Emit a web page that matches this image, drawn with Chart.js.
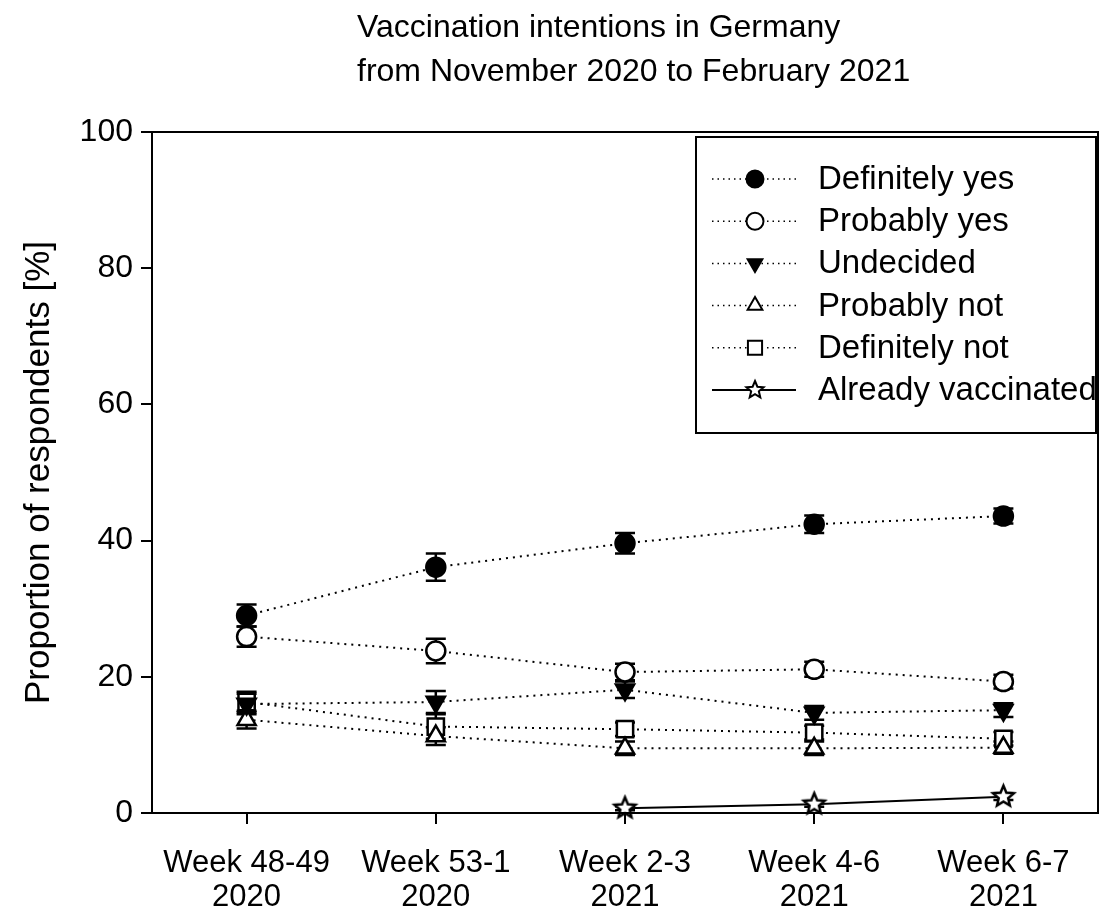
<!DOCTYPE html>
<html lang="en">
  <head>
    <meta charset="UTF-8" />
    <script src="https://cdn.jsdelivr.net/npm/chart.js"></script>
    <title>Vaccination intentions</title>
    <style>
      html, body { margin: 0; padding: 0; background: #fff; }
      #wrap { width: 1112px; height: 915px; }
    </style>
  </head>
  <body>
    <div id="wrap"><canvas id="chart" width="1112" height="915"></canvas></div>

    <script>
      // data
      const titleLines = ['Vaccination intentions in Germany', 'from November 2020 to February 2021']
      const weeks = [['Week 48-49', '2020'], ['Week 53-1', '2020'], ['Week 2-3', '2021'], ['Week 4-6', '2021'], ['Week 6-7', '2021']]
      const definitelyYes = [29.0, 36.1, 39.6, 42.4, 43.6]
      const definitelyYesErr = [1.6, 2.0, 1.5, 1.3, 1.1]
      const probablyYes = [25.9, 23.8, 20.7, 21.1, 19.3]
      const probablyYesErr = [1.5, 1.8, 1.2, 1.1, 1.0]
      const undecided = [16.0, 16.3, 18.1, 14.7, 15.1]
      const undecidedErr = [1.5, 1.6, 1.2, 1.0, 1.0]
      const probablyNot = [13.7, 11.3, 9.5, 9.5, 9.6]
      const probablyNotErr = [1.3, 1.3, 1.0, 1.0, 0.9]
      const definitelyNot = [16.3, 12.7, 12.3, 11.8, 10.9]
      const definitelyNotErr = [1.5, 1.8, 1.0, 1.0, 1.0]
      const alreadyVaccinated = [null, null, 0.7, 1.3, 2.4]
      const alreadyVaccinatedErr = [null, null, 0.3, 0.4, 0.5]

      const FONT = "'Liberation Sans', Arial, sans-serif"

      const makeStar = (r, lw) => {
        const c = document.createElement('canvas')
        const s = Math.ceil(2 * r + 2 * lw + 2)
        c.width = s
        c.height = s
        const g = c.getContext('2d')
        g.beginPath()
        for (let i = 0; i < 10; i++) {
          const rad = i % 2 === 0 ? r : r * 0.45
          const a = -Math.PI / 2 + (i * Math.PI) / 5
          const px = s / 2 + rad * Math.cos(a)
          const py = s / 2 + rad * Math.sin(a)
          i === 0 ? g.moveTo(px, py) : g.lineTo(px, py)
        }
        g.closePath()
        g.fillStyle = '#fff'
        g.fill()
        g.lineWidth = lw
        g.strokeStyle = '#000'
        g.stroke()
        return c
      }
      const starBig = makeStar(11, 2.5)
      const starSmall = makeStar(9, 2)

      const dotted = { borderColor: '#000', borderWidth: 2, borderDash: [2, 5], pointBorderColor: '#000', pointBorderWidth: 2.5, clip: false }

      const datasets = [
        { ...dotted, label: 'Definitely yes', data: definitelyYes, err: definitelyYesErr, pointStyle: 'circle', pointRadius: 9.5, pointBackgroundColor: '#000' },
        { ...dotted, label: 'Probably yes', data: probablyYes, err: probablyYesErr, pointStyle: 'circle', pointRadius: 9.5, pointBackgroundColor: '#fff' },
        { ...dotted, label: 'Undecided', data: undecided, err: undecidedErr, pointStyle: 'triangle', pointRotation: 180, pointRadius: 10.5, pointBackgroundColor: '#000' },
        { ...dotted, label: 'Probably not', data: probablyNot, err: probablyNotErr, pointStyle: 'triangle', pointRadius: 10.5, pointBackgroundColor: '#fff' },
        { ...dotted, label: 'Definitely not', data: definitelyNot, err: definitelyNotErr, pointStyle: 'rect', pointRadius: 11.5, pointBackgroundColor: '#fff' },
        { label: 'Already vaccinated', data: alreadyVaccinated, err: alreadyVaccinatedErr, borderColor: '#000', borderWidth: 2, pointStyle: starBig, pointRadius: 11, clip: false },
      ]

      // vertical error bars with caps, drawn under the markers
      const errorBars = {
        id: 'errorBars',
        beforeDatasetsDraw(chart) {
          const ctx = chart.ctx
          const y = chart.scales.y
          ctx.save()
          ctx.strokeStyle = '#000'
          ctx.lineWidth = 2.5
          chart.data.datasets.forEach((ds, i) => {
            const meta = chart.getDatasetMeta(i)
            meta.data.forEach((pt, j) => {
              const v = ds.data[j]
              const e = ds.err[j]
              if (v == null || e == null) return
              const top = y.getPixelForValue(v + e)
              const bot = y.getPixelForValue(v - e)
              ctx.beginPath()
              ctx.moveTo(pt.x, top)
              ctx.lineTo(pt.x, bot)
              ctx.moveTo(pt.x - 10, top)
              ctx.lineTo(pt.x + 10, top)
              ctx.moveTo(pt.x - 10, bot)
              ctx.lineTo(pt.x + 10, bot)
              ctx.stroke()
            })
          })
          ctx.restore()
        },
      }

      // title, frame around the plot and the boxed legend
      const frameAndLegend = {
        id: 'frameAndLegend',
        afterDraw(chart) {
          const ctx = chart.ctx
          const a = chart.chartArea
          ctx.save()
          ctx.fillStyle = '#000'
          ctx.font = `32px ${FONT}`
          ctx.textBaseline = 'alphabetic'
          ctx.textAlign = 'left'
          titleLines.forEach((t, i) => ctx.fillText(t, 357, 37 + i * 44))

          ctx.strokeStyle = '#000'
          ctx.lineWidth = 2
          ctx.strokeRect(a.left, a.top, a.right - a.left, a.bottom - a.top)

          const bx = a.right - 402
          const by = a.top + 5
          const bw = 400
          const bh = 296
          ctx.fillStyle = '#fff'
          ctx.fillRect(bx, by, bw, bh)
          ctx.beginPath()
          ctx.rect(bx, by, bw, bh)
          ctx.clip()
          chart.data.datasets.forEach((ds, i) => {
            const cy = by + 42 + i * 42.2
            ctx.strokeStyle = '#000'
            ctx.lineWidth = ds.borderDash ? 1.5 : 2
            ctx.setLineDash(ds.borderDash ? [1.5, 4] : [])
            ctx.beginPath()
            ctx.moveTo(bx + 16, cy)
            ctx.lineTo(bx + 100, cy)
            ctx.stroke()
            ctx.setLineDash([])
            ctx.fillStyle = ds.pointBackgroundColor || '#fff'
            ctx.lineWidth = 2
            const style = ds.pointStyle === starBig ? starSmall : ds.pointStyle
            Chart.helpers.drawPoint(ctx, { pointStyle: style, rotation: ds.pointRotation || 0, radius: ds.pointStyle === 'rect' ? 10 : 8.5, borderWidth: 2 }, bx + 59, cy)
            ctx.fillStyle = '#000'
            ctx.font = `33px ${FONT}`
            ctx.textBaseline = 'middle'
            ctx.fillText(ds.label, bx + 122, cy + 1)
          })
          ctx.restore()
          ctx.save()
          ctx.strokeStyle = '#000'
          ctx.lineWidth = 2
          ctx.strokeRect(bx, by, bw, bh)
          ctx.restore()
        },
      }

      new Chart(document.getElementById('chart').getContext('2d'), {
        type: 'line',
        data: { labels: weeks, datasets },
        options: {
          responsive: false,
          animation: false,
          layout: { padding: { left: 0, right: 14, top: 132, bottom: 0 } },
          plugins: {
            legend: { display: false },
            tooltip: { enabled: false },
            title: { display: false },
          },
          scales: {
            x: {
              offset: true,
              border: { display: false },
              grid: { drawOnChartArea: false, drawTicks: true, tickLength: 11, color: '#000', lineWidth: 2, offset: false },
              ticks: { color: '#000', padding: 23, maxRotation: 0, autoSkip: false, font: { family: FONT, size: 31, lineHeight: 1.08 } },
              afterFit: (s) => { s.height = 102 },
            },
            y: {
              min: 0,
              max: 100,
              border: { display: false },
              grid: { drawOnChartArea: false, drawTicks: true, tickLength: 11, color: '#000', lineWidth: 2 },
              ticks: { stepSize: 20, color: '#000', padding: 8, font: { family: FONT, size: 32 } },
              title: {
                display: true,
                text: 'Proportion of respondents [%]',
                color: '#000',
                font: { family: FONT, size: 35 },
                padding: { top: 18, bottom: 0 },
              },
              afterFit: (s) => { s.width = 152 },
            },
          },
        },
        plugins: [errorBars, frameAndLegend],
      })
    </script>
  </body>
</html>
